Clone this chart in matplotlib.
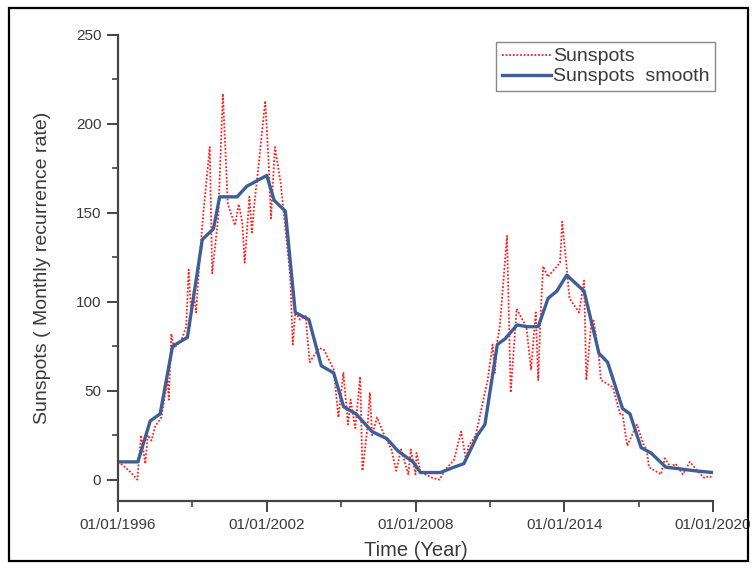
import matplotlib
matplotlib.use("Agg")
import matplotlib.pyplot as plt
from matplotlib.patches import Rectangle
from matplotlib.ticker import FixedLocator

plt.rcParams['font.family'] = ['Liberation Sans', 'DejaVu Sans']

# Monthly sunspots (red dotted)
sun_year = [1996.00, 1996.20, 1996.45, 1996.78, 1996.93, 1997.10, 1997.20, 1997.35, 1997.50, 1997.75,
            1997.90, 1998.00, 1998.05, 1998.15, 1998.25, 1998.55, 1998.75, 1998.85, 1998.95, 1999.05,
            1999.15, 1999.30, 1999.45, 1999.70, 1999.80, 2000.04, 2000.23, 2000.43, 2000.72, 2000.87,
            2001.01, 2001.11, 2001.30, 2001.40, 2001.50, 2001.69, 2001.79, 2001.94, 2002.08, 2002.17,
            2002.33, 2002.56, 2002.95, 2003.05, 2003.15, 2003.34, 2003.57, 2003.73, 2003.92, 2004.12,
            2004.31, 2004.70, 2004.89, 2004.99, 2005.09, 2005.28, 2005.38, 2005.57, 2005.77, 2005.86,
            2006.06, 2006.16, 2006.25, 2006.45, 2006.74, 2007.03, 2007.22, 2007.42, 2007.71, 2007.81,
            2008.00, 2008.04, 2008.19, 2008.23, 2008.68, 2008.97, 2009.17, 2009.55, 2009.84, 2010.04,
            2010.14, 2010.43, 2010.91, 2011.11, 2011.20, 2011.30, 2011.40, 2011.69, 2011.84, 2012.08,
            2012.31, 2012.47, 2012.66, 2012.85, 2012.95, 2013.05, 2013.15, 2013.34, 2013.83, 2013.92,
            2014.12, 2014.21, 2014.60, 2014.80, 2014.89, 2015.09, 2015.18, 2015.38, 2015.48, 2015.96,
            2016.25, 2016.35, 2016.54, 2016.93, 2017.22, 2017.32, 2017.42, 2017.90, 2018.06, 2018.29,
            2018.49, 2018.78, 2019.07, 2019.36, 2019.65, 2019.84, 2020.00]
sun_value = [10, 8, 5, 0, 25, 9, 25, 22, 30, 35,
             48, 56, 45, 82, 74, 78, 86, 118, 94, 106,
             94, 126, 151, 187, 116, 147, 217, 155, 143, 155,
             145, 122, 159, 139, 155, 179, 193, 213, 177, 147,
             187, 167, 114, 76, 94, 90, 92, 66, 70, 74,
             73, 62, 35, 48, 60, 31, 45, 29, 58, 5,
             29, 49, 25, 35, 25, 17, 5, 17, 3, 17,
             3, 15, 5, 4, 1, 0, 5, 11, 27, 11,
             19, 25, 56, 76, 60, 78, 86, 137, 49, 96,
             90, 86, 62, 94, 56, 94, 120, 114, 122, 145,
             116, 102, 94, 112, 56, 88, 90, 72, 56, 52,
             37, 37, 19, 31, 19, 17, 7, 3, 12, 7,
             9, 3, 10, 5, 1, 2, 1]

# Smoothed sunspots (blue)
smooth_year = [1996.0, 1996.8, 1997.3, 1997.7, 1998.2, 1998.8, 1999.4, 1999.85, 2000.1, 2000.8,
               2001.2, 2002.0, 2002.3, 2002.75, 2003.15, 2003.7, 2004.2, 2004.7, 2005.1, 2005.6,
               2006.25, 2006.85, 2007.3, 2007.9, 2008.2, 2009.0, 2009.55, 2009.95, 2010.5, 2010.8,
               2011.3, 2011.6, 2012.1, 2012.5, 2012.95, 2013.35, 2013.7, 2014.1, 2014.8, 2015.4,
               2015.75, 2016.35, 2016.65, 2017.1, 2017.5, 2018.1, 2018.7, 2019.25, 2020.0]
smooth_value = [10, 10, 33, 37, 75, 80, 135, 141, 159, 159,
                165, 171, 157, 151, 94, 90, 64, 60, 41, 37,
                27, 23, 16, 10, 4, 4, 7, 9, 25, 31,
                76, 79, 87, 86, 86, 102, 106, 115, 106, 71,
                66, 40, 37, 18, 15, 7, 6, 5, 4]

xtick_pos = [1996, 2002, 2008, 2014, 2020]
xtick_labels = ['01/01/1996', '01/01/2002', '01/01/2008', '01/01/2014', '01/01/2020']
xminor_pos = [1999, 2005, 2011, 2017]
ytick_pos = [0, 50, 100, 150, 200, 250]
yminor_pos = [25, 75, 125, 175, 225]

fig = plt.figure(figsize=(7.56, 5.68), dpi=100)
ax = fig.add_axes([118/756, 1-501/568, (713-118)/756, (501-35)/568])

ax.plot(sun_year, sun_value, color='#ff2020', linestyle=(0, (1, 1)), linewidth=1.3, label='Sunspots')
ax.plot(smooth_year, smooth_value, color='#3d5f96', linewidth=2.4, label='Sunspots  smooth')

ax.set_xlim(1996, 2020)
ax.set_ylim(-12, 250)

txt = '#3a3a3a'
spine_c = '#444444'
for s in ['top', 'right']:
    ax.spines[s].set_visible(False)
for s in ['left', 'bottom']:
    ax.spines[s].set_color(spine_c)
    ax.spines[s].set_linewidth(1.6)

ax.set_xticks(xtick_pos)
ax.set_xticklabels(xtick_labels)
ax.xaxis.set_minor_locator(FixedLocator(xminor_pos))
ax.set_yticks(ytick_pos)
ax.yaxis.set_minor_locator(FixedLocator(yminor_pos))
ax.tick_params(which='major', direction='out', length=8, width=1.4, color=spine_c,
               labelsize=11, labelcolor=txt, pad=4)
ax.tick_params(which='minor', direction='out', length=4, width=1.2, color=spine_c)

ax.set_xlabel('Time (Year)', fontsize=14.5, color=txt, labelpad=7)
ax.set_ylabel('Sunspots ( Monthly recurrence rate)', fontsize=14, color=txt, labelpad=18)

leg = ax.legend(loc='upper right', bbox_to_anchor=(715/756, 1-42/568), bbox_transform=fig.transFigure,
                borderaxespad=0, fancybox=False, framealpha=1, edgecolor='#888888',
                fontsize=14, handlelength=2.5, handletextpad=0.1, labelspacing=0.12,
                borderpad=0.3)
for t in leg.get_texts():
    t.set_color(txt)
leg.get_frame().set_linewidth(1.0)

fig.patches.append(Rectangle((9/756, 1-561/568), (748-9)/756, (561-8)/568, transform=fig.transFigure,
                             fill=False, edgecolor='black', linewidth=1.6))

fig.savefig('out.png', dpi=100)
